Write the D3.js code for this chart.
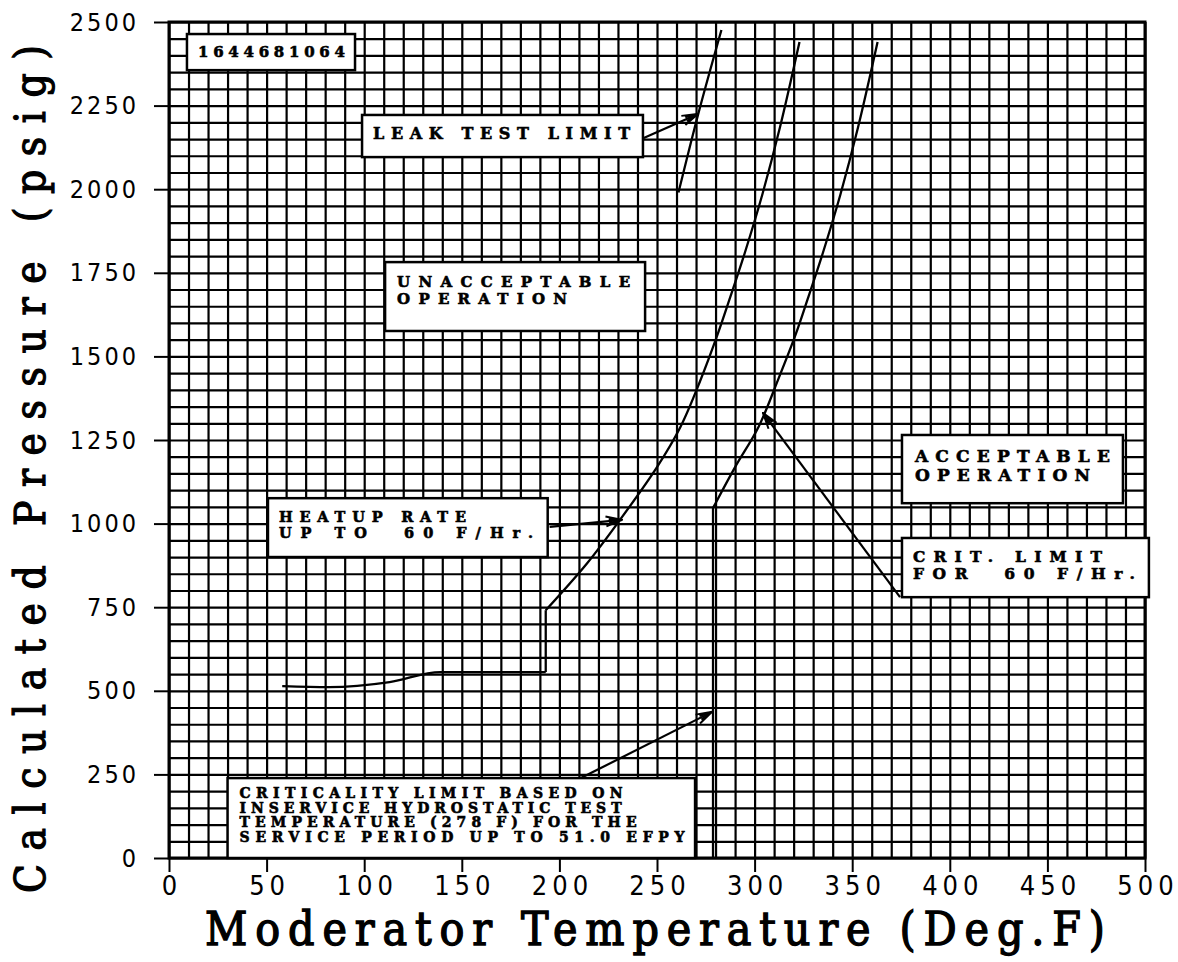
<!DOCTYPE html>
<html>
<head>
<meta charset="utf-8">
<script src="https://cdn.jsdelivr.net/npm/d3@7"></script>
<style>
  body { margin: 0; background: #fff; }
  svg { display: block; }
</style>
</head>
<body>
<div id="chart"></div>
<script>
// tick labels
const xTicks = [0, 50, 100, 150, 200, 250, 300, 350, 400, 450, 500]
const yTicks = [0, 250, 500, 750, 1000, 1250, 1500, 1750, 2000, 2250, 2500]

// heatup curve (60 F/Hr) - step at 193 F
const heatupT = [58, 82, 113, 139, 193, 193, 214, 231, 250, 262, 272, 281, 287, 295, 304, 313, 323]
const heatupP = [514, 511, 526, 556, 556, 741, 880, 1011, 1169, 1289, 1425, 1565, 1668, 1810, 1985, 2185, 2440]

// criticality limit curve
const critT = [278.7, 278.7, 280, 290, 302, 312, 321, 327, 335, 344, 353, 363]
const critP = [0, 1047, 1061, 1169, 1289, 1430, 1565, 1668, 1810, 1985, 2185, 2440]

// leak test limit
const leakT = [261, 271, 283]
const leakP = [1990, 2222, 2476]

const W = 1178, H = 962
const mLeft = 169, mRight = 1145, mTop = 22, mBottom = 858

const svg = d3.select("#chart").append("svg")
  .attr("width", W)
  .attr("height", H)

svg.append("rect").attr("width", W).attr("height", H).attr("fill", "#fff")

const x = d3.scaleLinear().domain([0, 500]).range([mLeft, mRight])
const y = d3.scaleLinear().domain([0, 2500]).range([mBottom, mTop])

// fine grid, every 10 F and every 50 psig
svg.append("g")
  .attr("class", "gridx")
  .attr("transform", `translate(0,${mBottom})`)
  .call(d3.axisBottom(x).tickValues(d3.range(0, 501, 10)).tickSize(-(mBottom - mTop)).tickFormat(""))
svg.append("g")
  .attr("class", "gridy")
  .attr("transform", `translate(${mLeft},0)`)
  .call(d3.axisLeft(y).tickValues(d3.range(0, 2501, 50)).tickSize(-(mRight - mLeft)).tickFormat(""))
svg.selectAll(".gridx .domain, .gridy .domain").remove()
svg.selectAll(".gridx line, .gridy line").attr("stroke", "#000").attr("stroke-width", 2.2)

// border
svg.append("rect")
  .attr("x", mLeft).attr("y", mTop)
  .attr("width", mRight - mLeft).attr("height", mBottom - mTop)
  .attr("fill", "none").attr("stroke", "#000").attr("stroke-width", 3)

// axes with labels
const tickFont = "'Liberation Sans Narrow', 'DejaVu Sans Condensed', 'Arial Narrow', sans-serif"
const xAxis = svg.append("g")
  .attr("transform", `translate(0,${mBottom})`)
  .call(d3.axisBottom(x).tickValues(xTicks).tickSize(14).tickPadding(4).tickFormat(d3.format("d")))
const yAxis = svg.append("g")
  .attr("transform", `translate(${mLeft},0)`)
  .call(d3.axisLeft(y).tickValues(yTicks).tickSize(15).tickPadding(15).tickFormat(d3.format("d")))
svg.selectAll(".domain").remove()
xAxis.selectAll("line").attr("stroke", "#000").attr("stroke-width", 2)
yAxis.selectAll("line").attr("stroke", "#000").attr("stroke-width", 2)
xAxis.selectAll("text")
  .attr("font-family", tickFont).attr("font-size", 27)
  .attr("letter-spacing", 5).attr("fill", "#000")
  .attr("dx", "2.5")
yAxis.selectAll("text")
  .attr("font-family", tickFont).attr("font-size", 25)
  .attr("letter-spacing", 3).attr("fill", "#000")

// axis titles
const titleFont = "'DejaVu Serif', 'Liberation Serif', serif"
svg.append("text")
  .attr("x", 205).attr("y", 945)
  .attr("font-family", titleFont)
  .attr("font-stretch", "condensed")
  .attr("font-size", 46)
  .attr("stroke", "#000").attr("stroke-width", 1.3)
  .attr("textLength", 900).attr("lengthAdjust", "spacing")
  .text("Moderator Temperature (Deg.F)")

svg.append("text")
  .attr("transform", "translate(45,893) rotate(-90)")
  .attr("font-family", titleFont)
  .attr("font-stretch", "condensed")
  .attr("font-size", 42)
  .attr("stroke", "#000").attr("stroke-width", 1.2)
  .attr("textLength", 848).attr("lengthAdjust", "spacing")
  .text("Calculated Pressure (psig)")

// curves
const lineLin = d3.line().x(d => x(d[0])).y(d => y(d[1]))
const lineMonoX = d3.line().x(d => x(d[0])).y(d => y(d[1])).curve(d3.curveMonotoneX)
const lineSmooth = d3.line().x(d => x(d[0])).y(d => y(d[1])).curve(d3.curveCatmullRom.alpha(0.5))

const heat = heatupT.map((t, i) => [t, heatupP[i]])
const crit = critT.map((t, i) => [t, critP[i]])
const leak = leakT.map((t, i) => [t, leakP[i]])

const curves = svg.append("g")
  .attr("fill", "none").attr("stroke", "#000").attr("stroke-width", 2.3)
  .attr("stroke-linejoin", "round")
curves.append("path").attr("d", lineMonoX(heat.slice(0, 5)))
curves.append("path").attr("d", lineLin(heat.slice(4, 6)))
curves.append("path").attr("d", lineSmooth(heat.slice(5)))
curves.append("path").attr("d", lineLin(crit.slice(0, 3)))
curves.append("path").attr("d", lineSmooth(crit.slice(2)))
curves.append("path").attr("d", lineSmooth(leak))

// annotation boxes (corners in data units, text offsets in px from the box corner)
const boxes = [
  { t0: 9.2, t1: 95.3, p0: 2464, p1: 2356, size: 15, lines: [
    { s: "1644681064", dx: 11, dy: 23, len: 147 } ] },
  { t0: 98.9, t1: 242.8, p0: 2222, p1: 2096, size: 16, lines: [
    { s: "LEAK TEST LIMIT", dx: 11, dy: 24, len: 257 } ] },
  { t0: 110.7, t1: 243.9, p0: 1782, p1: 1576, size: 15, lines: [
    { s: "UNACCEPTABLE", dx: 12, dy: 25, len: 233 },
    { s: "OPERATION", dx: 12, dy: 42, len: 170 } ] },
  { t0: 50.7, t1: 194, p0: 1076, p1: 900, size: 14.5, lines: [
    { s: "HEATUP RATE", dx: 11, dy: 24, len: 187 },
    { s: "UP TO  60 F/Hr.", dx: 11, dy: 40, len: 254 } ] },
  { t0: 375.5, t1: 488.7, p0: 1265, p1: 1061, size: 17, lines: [
    { s: "ACCEPTABLE", dx: 13, dy: 27, len: 195 },
    { s: "OPERATION", dx: 13, dy: 46, len: 175 } ] },
  { t0: 375.5, t1: 502, p0: 957, p1: 780, size: 15.5, lines: [
    { s: "CRIT. LIMIT", dx: 11, dy: 24, len: 189 },
    { s: "FOR  60 F/Hr.", dx: 11, dy: 41, len: 222 } ] },
  { t0: 30, t1: 269.5, p0: 239, p1: 0, size: 14, lines: [
    { s: "CRITICALITY LIMIT BASED ON", dx: 12, dy: 20, len: 383 },
    { s: "INSERVICE HYDROSTATIC TEST", dx: 12, dy: 35, len: 382 },
    { s: "TEMPERATURE (278 F) FOR THE", dx: 12, dy: 49, len: 397 },
    { s: "SERVICE PERIOD UP TO 51.0 EFPY", dx: 12, dy: 64, len: 445 } ] }
]

const boxFont = "'DejaVu Serif', 'Liberation Serif', serif"
boxes.forEach(function(b) {
  const bx = x(b.t0), by = y(b.p0)
  const g = svg.append("g")
  g.append("rect")
    .attr("x", bx).attr("y", by)
    .attr("width", x(b.t1) - bx).attr("height", y(b.p1) - by)
    .attr("fill", "#fff").attr("stroke", "#000").attr("stroke-width", 2.5)
  b.lines.forEach(function(l) {
    g.append("text")
      .attr("x", bx + l.dx).attr("y", by + l.dy)
      .attr("font-family", boxFont).attr("font-weight", "bold")
      .attr("font-size", b.size)
      .attr("stroke", "#000").attr("stroke-width", 0.6)
      .attr("textLength", l.len).attr("lengthAdjust", "spacing")
      .style("white-space", "pre")
      .text(l.s)
  })
})

// arrows [tailT, tailP, tipT, tipP]
const arrows = [
  [243.2, 2153, 271, 2225],
  [195, 990, 232, 1011],
  [374.5, 780, 304.3, 1331],
  [211, 239, 278.2, 437]
]

svg.append("defs").append("marker")
  .attr("id", "head")
  .attr("viewBox", "0 -7 18 14")
  .attr("refX", 17).attr("refY", 0)
  .attr("markerWidth", 18).attr("markerHeight", 14)
  .attr("markerUnits", "userSpaceOnUse")
  .attr("orient", "auto")
  .append("path")
  .attr("d", "M1,-5L17,0L1,5M4,-2L17,0L4,2")
  .attr("fill", "none").attr("stroke", "#000").attr("stroke-width", 2)

svg.append("g").selectAll("line")
  .data(arrows)
  .join("line")
    .attr("x1", d => x(d[0])).attr("y1", d => y(d[1]))
    .attr("x2", d => x(d[2])).attr("y2", d => y(d[3]))
    .attr("stroke", "#000").attr("stroke-width", 2.2)
    .attr("marker-end", "url(#head)")
</script>
</body>
</html>
